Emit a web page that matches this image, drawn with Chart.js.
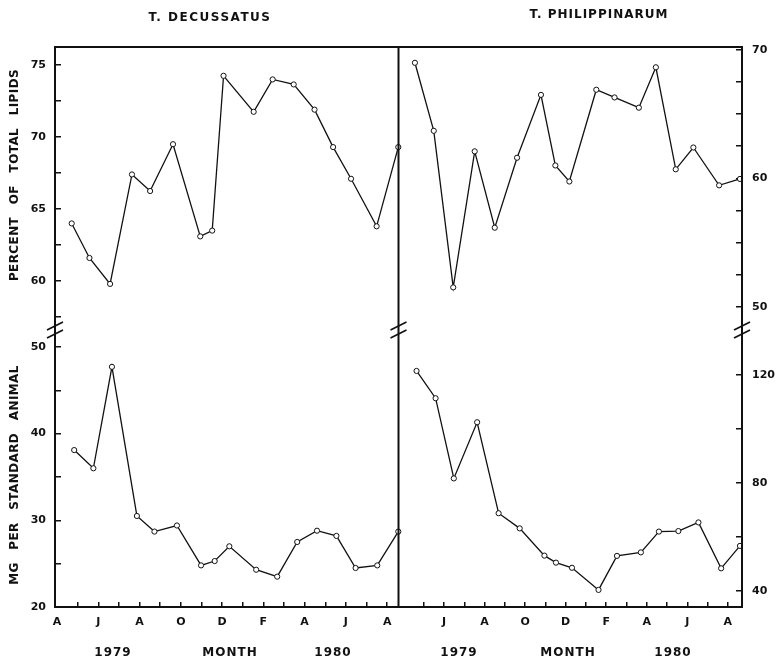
<!DOCTYPE html>
<html>
<head>
<meta charset="utf-8">
<script src="https://cdn.jsdelivr.net/npm/chart.js@4"></script>
<style>
  body { margin: 0; background: #fff; }
  #wrap { position: relative; width: 777px; height: 659px; }
  canvas { position: absolute; left: 0; top: 0; }
  .lbl {
    position: absolute; font-family: 'DejaVu Sans', sans-serif; font-weight: bold;
    font-size: 12px; color: #111; white-space: pre; letter-spacing: 1px;
    transform: translate(-50%, -50%);
  }
  .vert { transform: translate(-50%, -50%) rotate(-90deg); letter-spacing: 0.4px; word-spacing: 8px; }
</style>
</head>
<body>
<div id="wrap">
  <canvas id="lipidChart" width="777" height="659"></canvas>
  <div class="lbl" style="left:210px;top:17px;letter-spacing:1.5px">T. DECUSSATUS</div>
  <div class="lbl" style="left:599px;top:14px">T. PHILIPPINARUM</div>
  <div class="lbl vert" style="left:14px;top:175px">PERCENT OF TOTAL LIPIDS</div>
  <div class="lbl vert" style="left:14px;top:475px">MG PER STANDARD ANIMAL</div>
  <div class="lbl" style="left:113px;top:652px">1979</div>
  <div class="lbl" style="left:230px;top:652px">MONTH</div>
  <div class="lbl" style="left:333px;top:652px">1980</div>
  <div class="lbl" style="left:459px;top:652px">1979</div>
  <div class="lbl" style="left:568px;top:652px">MONTH</div>
  <div class="lbl" style="left:673px;top:652px">1980</div>
</div>
<script>
// x values are months counted from April 1979
const decPctMonths = [0.71, 1.57, 2.57, 3.63, 4.51, 5.62, 6.94, 7.52, 8.07, 9.53, 10.45, 11.47, 12.48, 13.38, 14.25, 15.49, 16.54];
const decPct = [64.0, 61.6, 59.8, 67.4, 66.25, 69.5, 63.1, 63.5, 74.25, 71.75, 74.0, 73.65, 71.9, 69.3, 67.1, 63.8, 69.3];
const decMgMonths = [0.83, 1.76, 2.66, 3.87, 4.72, 5.81, 6.98, 7.64, 8.35, 9.65, 10.67, 11.64, 12.6, 13.54, 14.47, 15.52, 16.54];
const decMg = [38.1, 36.0, 47.7, 30.5, 28.7, 29.4, 24.8, 25.3, 27.0, 24.3, 23.5, 27.5, 28.8, 28.2, 24.5, 24.8, 28.7];

const phiPctMonths = [0.56, 1.49, 2.45, 3.51, 4.5, 5.6, 6.78, 7.49, 8.18, 9.51, 10.41, 11.61, 12.45, 13.43, 14.3, 15.57, 16.6];
const phiPct = [69.0, 63.7, 51.5, 62.1, 56.15, 61.6, 66.5, 61.0, 59.75, 66.9, 66.3, 65.5, 68.65, 60.7, 62.4, 59.45, 59.95];
const phiMgMonths = [0.64, 1.58, 2.48, 3.63, 4.69, 5.73, 6.95, 7.52, 8.31, 9.62, 10.53, 11.71, 12.6, 13.56, 14.55, 15.67, 16.6];
const phiMg = [121.5, 111.4, 81.7, 102.5, 68.8, 63.2, 53.1, 50.5, 48.6, 40.4, 53.0, 54.3, 62.0, 62.2, 65.4, 48.4, 56.7];

const monthLetters = ['A', '', 'J', '', 'A', '', 'O', '', 'D', '', 'F', '', 'A', '', 'J', '', 'A'];

const ink = '#111';
const tickFont = { family: 'DejaVu Sans', size: 11, weight: 'bold' };

function series(xs, ys, xAxisID, yAxisID) {
    return {
        data: xs.map((x, i) => ({ x: x, y: ys[i] })),
        xAxisID: xAxisID,
        yAxisID: yAxisID,
        borderColor: ink,
        borderWidth: 1.3,
        pointRadius: 2.6,
        pointBorderWidth: 1,
        pointBackgroundColor: '#fff',
        pointBorderColor: ink,
        fill: false,
        tension: 0,
        clip: 5
    };
}

function yAxis(position, min, max, step, labelEvery, weight, stackWeight) {
    return {
        type: 'linear', position: position, stack: 'y' + position, stackWeight: stackWeight, weight: weight,
        min: min, max: max,
        grid: { drawOnChartArea: false, tickLength: -6, color: ink, lineWidth: 1.5 },
        border: { display: true, color: ink, width: 2 },
        ticks: {
            stepSize: step, includeBounds: false, maxTicksLimit: 100, font: tickFont, color: ink,
            padding: position === 'left' ? 15 : 16,
            callback: v => Math.abs(v / labelEvery - Math.round(v / labelEvery)) < 1e-6 ? String(v) : ''
        },
        afterFit: s => { s.width = position === 'left' ? 55 : 35; }
    };
}

function xAxis(min, max, skipFirst, weight) {
    return {
        type: 'linear', position: 'bottom', stack: 'months', stackWeight: 1, weight: weight,
        min: min, max: max,
        grid: {
            drawOnChartArea: false, tickLength: -5, lineWidth: 1.5,
            color: c => (c.tick && c.tick.value === 0) ? 'rgba(0,0,0,0)' : ink
        },
        border: { display: true, color: ink, width: 2 },
        ticks: {
            stepSize: 1, includeBounds: false, maxTicksLimit: 100, autoSkip: false, maxRotation: 0,
            font: tickFont, color: ink, padding: 14,
            callback: v => (skipFirst && v === 0) ? '' : (monthLetters[v] || '')
        },
        afterFit: s => { s.height = 30; }
    };
}

// outer frame, middle divider and the axis break marks
const framePlugin = {
    id: 'frame',
    afterDraw(chart) {
        const { ctx, chartArea } = chart;
        const split = chart.scales.xL.right;
        const brk = chart.scales.yLT.bottom;
        ctx.save();
        ctx.strokeStyle = ink;
        ctx.lineWidth = 2;
        ctx.strokeRect(chartArea.left, chartArea.top, chartArea.width, chartArea.height);
        ctx.beginPath();
        ctx.moveTo(split, chartArea.top);
        ctx.lineTo(split, chartArea.bottom);
        ctx.stroke();
        ctx.lineWidth = 1.6;
        [chartArea.left, split, chartArea.right].forEach(x => {
            [-4, 4].forEach(dy => {
                ctx.beginPath();
                ctx.moveTo(x - 8, brk + dy + 4);
                ctx.lineTo(x + 8, brk + dy - 4);
                ctx.stroke();
            });
        });
        ctx.restore();
    }
};

const ctx = document.getElementById('lipidChart').getContext('2d');
new Chart(ctx, {
    type: 'line',
    data: {
        datasets: [
            series(decPctMonths, decPct, 'xL', 'yLT'),
            series(decMgMonths, decMg, 'xL', 'yLB'),
            series(phiPctMonths, phiPct, 'xR', 'yRT'),
            series(phiMgMonths, phiMg, 'xR', 'yRB')
        ]
    },
    options: {
        responsive: false,
        animation: false,
        devicePixelRatio: 1,
        layout: { padding: { top: 47, bottom: 22, left: 0, right: 0 } },
        plugins: { legend: { display: false }, tooltip: { enabled: false } },
        scales: {
            xL: xAxis(-0.1, 16.55, false, 0),
            xR: xAxis(-0.25, 16.7, true, 1),
            yLT: yAxis('left', 56.6, 76.25, 2.5, 5, 1, 283),
            yLB: yAxis('left', 20, 51.95, 5, 10, 0, 277),
            yRT: yAxis('right', 48.18, 70.23, 2.5, 10, 0, 283),
            yRB: yAxis('right', 34.07, 136.67, 20, 40, 1, 277)
        }
    },
    plugins: [framePlugin]
});
</script>
</body>
</html>
